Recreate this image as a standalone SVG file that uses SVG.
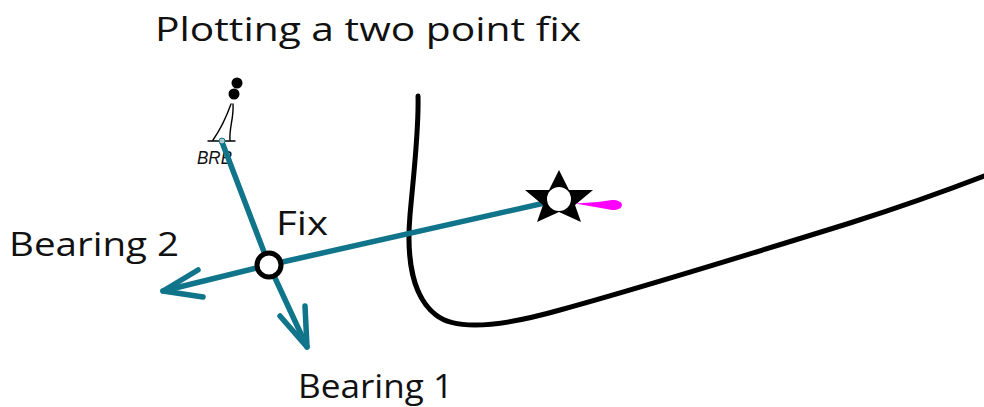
<svg xmlns="http://www.w3.org/2000/svg" width="984" height="407" viewBox="0 0 984 407">
<style>
.t{font-family:"Open Sans","Liberation Sans",sans-serif;font-size:32px;fill:#111}
.b{fill:none;stroke:#10758a;stroke-width:5.5;stroke-linecap:round;stroke-linejoin:round}
.k{fill:none;stroke:#000;stroke-linecap:round;stroke-linejoin:round}
</style>
<rect width="984" height="407" fill="#fff"/>
<g id="coast"><path class="k" stroke-width="5" d="M418 96C419 130 414 170 410 215C406 262 414 298 436 315C456 331 500 327 560 310C640 288 760 251 850 223C900 207 945 191 984 176"/></g>
<g id="observer">
<circle cx="237" cy="83" r="5.500" fill="#000"/>
<circle cx="234" cy="94" r="5.500" fill="#000"/>
<path class="k" stroke-width="1.400" d="M231 104C226 118 220 130 213 140M233 104C234 118 229 128 230 140M208 141H235"/>
<text x="197" y="164" font-family="'Liberation Sans',sans-serif" font-size="19" font-style="italic" fill="#111" textLength="35" lengthAdjust="spacingAndGlyphs">BRB</text>
</g>
<g id="connectors">
<path class="b" d="M222 142L269 265L307 347"/>
<path class="b" d="M280 316L307 347L305 306"/>
<path class="b" d="M558 200L269 265L163 291"/>
<path class="b" d="M198 270L163 291L203 297"/>
</g>
<g id="brb-point"><circle cx="222" cy="141" r="3" fill="#a9c9d0" stroke="#10758a" stroke-width="1"/></g>
<g id="star">
<polygon points="559,170 569,190 593,190 575,205 581,222 559,212 537,222 543,205 525,190 549,190" fill="#000"/>
<circle cx="559" cy="199" r="12" fill="#fff"/>
<path d="M575 203.500L598 202L612 200C618 200 622 202 622 205C622 208 618 210 612 210L598 207.500Z" fill="#f0f"/>
</g>
<g id="fix"><circle cx="269" cy="265" r="12" fill="#fff" stroke="#000" stroke-width="5"/>
<text class="t" x="276" y="235" textLength="52" lengthAdjust="spacingAndGlyphs">Fix</text></g>
<g id="labels">
<text class="t" x="155" y="41" textLength="426" lengthAdjust="spacingAndGlyphs">Plotting a two point fix</text>
<text class="t" x="9" y="256" textLength="170" lengthAdjust="spacingAndGlyphs">Bearing 2</text>
<text class="t" x="298" y="398" textLength="155" lengthAdjust="spacingAndGlyphs">Bearing 1</text>
</g>
</svg>
